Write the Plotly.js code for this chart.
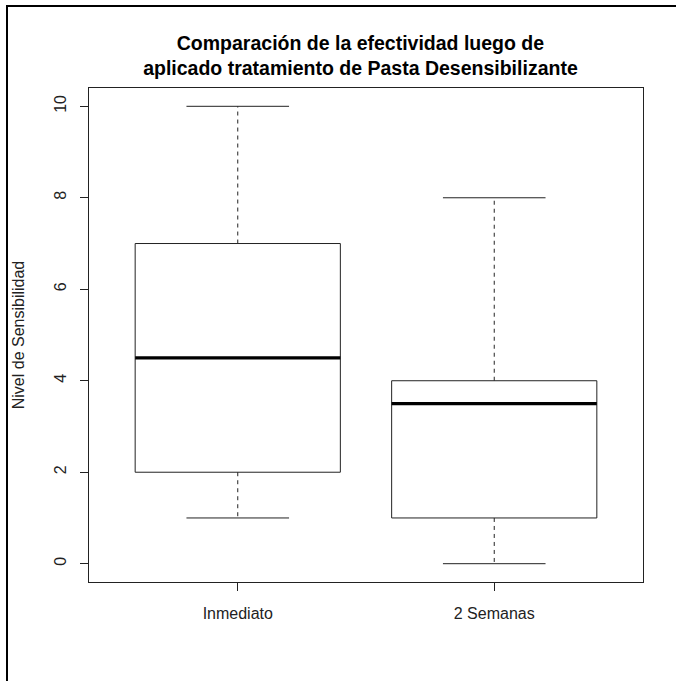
<!DOCTYPE html>
<html>
<head>
<meta charset="utf-8">
<script src="https://cdn.plot.ly/plotly-3.0.1.min.js"></script>
<style>
  html, body { margin: 0; padding: 0; background: #fff; }
  #wrap { position: relative; width: 676px; height: 681px; overflow: hidden; }
  #chart { position: absolute; left: 0; top: 0; width: 676px; height: 681px; }
  #frame { position: absolute; left: 6px; top: 5px; width: 700px; height: 700px;
           border-top: 2px solid #000; border-left: 2px solid #000; pointer-events: none; }
</style>
</head>
<body>
<div id="wrap">
  <div id="chart"></div>
  <div id="frame"></div>
</div>
<script>
// ---- Data ----
const categories = ['Inmediato', '2 Semanas'];
const minVals    = [1, 0];
const q1Vals     = [2, 1];
const medianVals = [4.5, 3.5];
const q3Vals     = [7, 4];
const maxVals    = [10, 8];
const yTickVals  = [0, 2, 4, 6, 8, 10];

// ---- Style constants ----
const boxHalf = 0.4;     // R boxwex 0.8
const stapleHalf = 0.2;  // R staplewex 0.5
const lineCol = '#222';
const font = 'Liberation Sans, Arial, sans-serif';

const traces = [];
categories.forEach(function (cat, i) {
  const xc = i + 1;
  // whiskers (dashed)
  traces.push({
    x: [xc, xc, null, xc, xc],
    y: [q3Vals[i], maxVals[i], null, q1Vals[i], minVals[i]],
    mode: 'lines', type: 'scatter', hoverinfo: 'skip', showlegend: false,
    line: { color: lineCol, width: 1, dash: '4px,4px' }
  });
  // staples
  traces.push({
    x: [xc - stapleHalf, xc + stapleHalf, null, xc - stapleHalf, xc + stapleHalf],
    y: [maxVals[i], maxVals[i], null, minVals[i], minVals[i]],
    mode: 'lines', type: 'scatter', hoverinfo: 'skip', showlegend: false,
    line: { color: lineCol, width: 1 }
  });
  // box
  traces.push({
    x: [xc - boxHalf, xc + boxHalf, xc + boxHalf, xc - boxHalf, xc - boxHalf],
    y: [q1Vals[i], q1Vals[i], q3Vals[i], q3Vals[i], q1Vals[i]],
    mode: 'lines', type: 'scatter', hoverinfo: 'skip', showlegend: false,
    line: { color: lineCol, width: 1 }
  });
  // median
  traces.push({
    x: [xc - boxHalf, xc + boxHalf],
    y: [medianVals[i], medianVals[i]],
    mode: 'lines', type: 'scatter', hoverinfo: 'skip', showlegend: false,
    line: { color: '#000', width: 3.2 }
  });
});

const layout = {
  width: 676, height: 681,
  paper_bgcolor: '#fff', plot_bgcolor: '#fff',
  margin: { l: 89, r: 33, t: 88, b: 99, pad: 0 },
  showlegend: false,
  font: { family: font, size: 16, color: '#222' },
  title: {
    text: 'Comparación de la efectividad luego de<br>aplicado tratamiento de Pasta Desensibilizante',
    font: { family: font, size: 19.5, color: '#000', weight: 'bold' },
    x: 0.49, xref: 'paper', xanchor: 'center',
    y: 1 - 50 / 681, yref: 'container', yanchor: 'top'
  },
  xaxis: {
    range: [0.42, 2.58], fixedrange: true,
    tickmode: 'array', tickvals: categories.map(function (c, i) { return i + 1; }),
    ticktext: categories,
    ticks: 'outside', ticklen: 8, tickwidth: 1, tickcolor: lineCol,
    showline: true, mirror: true, linecolor: lineCol, linewidth: 1,
    showgrid: false, zeroline: false,
    tickfont: { family: font, size: 16, color: '#222' },
    ticklabelstandoff: 9
  },
  yaxis: {
    range: [-0.4, 10.4], fixedrange: true,
    tickmode: 'array', tickvals: yTickVals, ticktext: yTickVals.map(String),
    tickangle: -90,
    ticks: 'outside', ticklen: 8, tickwidth: 1, tickcolor: lineCol,
    showline: true, mirror: true, linecolor: lineCol, linewidth: 1,
    showgrid: false, zeroline: false,
    tickfont: { family: font, size: 16, color: '#222' },
    ticklabelstandoff: 8,
    title: { text: 'Nivel de Sensibilidad', font: { family: font, size: 16, color: '#222' }, standoff: 22 }
  }
};

Plotly.newPlot('chart', traces, layout, { staticPlot: true, displayModeBar: false });
</script>
</body>
</html>
